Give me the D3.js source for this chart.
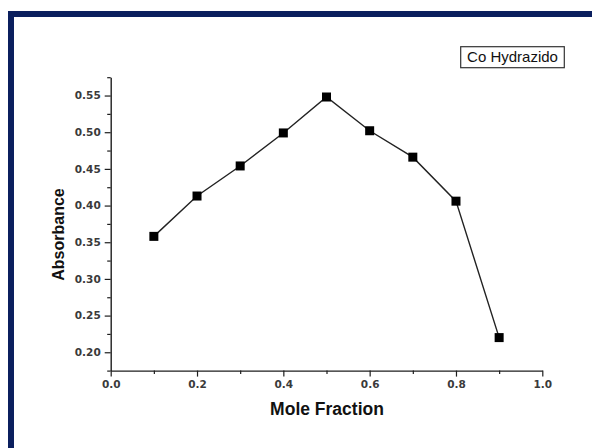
<!DOCTYPE html>
<html>
<head>
<meta charset="utf-8">
<script src="https://cdn.jsdelivr.net/npm/d3@7"></script>
<style>
  html, body { margin: 0; padding: 0; background: #fff; }
  svg { display: block; }
</style>
</head>
<body>
<svg id="chart" width="592" height="448"></svg>
<script>
// Job's method of continuous variation: absorbance vs. mole fraction
const moleFraction = [0.1, 0.2, 0.3, 0.4, 0.5, 0.6, 0.7, 0.8, 0.9];
const absorbance   = [0.358, 0.413, 0.454, 0.499, 0.548, 0.502, 0.466, 0.406, 0.220];
const xTicks = [0.0, 0.2, 0.4, 0.6, 0.8, 1.0];
const yTicks = [0.20, 0.25, 0.30, 0.35, 0.40, 0.45, 0.50, 0.55];
const seriesName = "Co Hydrazido";

const svg = d3.select("#chart");

// navy frame along top and left edges
svg.append("rect").attr("x", 8).attr("y", 11).attr("width", 600).attr("height", 6).attr("fill", "#0b1f5e");
svg.append("rect").attr("x", 8).attr("y", 11).attr("width", 6).attr("height", 450).attr("fill", "#0b1f5e");

const x = d3.scaleLinear().domain([0, 1]).range([110.7, 542.3]);
const y = d3.scaleLinear().domain([0.175, 0.575]).range([370.6, 77.2]);

const axisColor = "#1e1e1e";
const tickFont = "'DejaVu Sans', sans-serif";

// minor ticks
const xMinor = d3.range(0.1, 1.0, 0.2);
const yMinor = d3.range(0.175, 0.576, 0.05);

const gx = svg.append("g").attr("transform", `translate(0,${y.range()[0]})`);
gx.call(d3.axisBottom(x).tickValues(xTicks).tickFormat(d3.format(".1f")).tickSizeInner(6).tickSizeOuter(0).tickPadding(4));
gx.append("g").call(d3.axisBottom(x).tickValues(xMinor).tickSize(3.5).tickFormat(""))
  .select(".domain").remove();

const gy = svg.append("g").attr("transform", `translate(${x.range()[0]},0)`);
gy.call(d3.axisLeft(y).tickValues(yTicks).tickFormat(d3.format(".2f")).tickSizeInner(6).tickSizeOuter(0).tickPadding(4));
gy.append("g").call(d3.axisLeft(y).tickValues(yMinor).tickSize(3.5).tickFormat(""))
  .select(".domain").remove();

[gx, gy].forEach(g => {
  g.selectAll(".domain").attr("stroke", axisColor).attr("stroke-width", 1.4);
  g.selectAll(".tick line").attr("stroke", axisColor).attr("stroke-width", 1.2);
  g.selectAll(".tick text")
    .attr("fill", "#3a3a3a")
    .attr("font-family", tickFont)
    .attr("font-weight", "bold")
    .attr("font-size", "10.5px");
});

// axis titles
svg.append("text")
  .attr("x", (x.range()[0] + x.range()[1]) / 2 + 0.5)
  .attr("y", 415)
  .attr("text-anchor", "middle")
  .attr("font-family", "'Liberation Sans', Arial, sans-serif")
  .attr("font-weight", "bold")
  .attr("font-size", "17.5px")
  .attr("fill", "#111")
  .text("Mole Fraction");

svg.append("text")
  .attr("transform", "translate(63.5,234.5) rotate(-90)")
  .attr("text-anchor", "middle")
  .attr("font-family", "'Liberation Sans', Arial, sans-serif")
  .attr("font-weight", "bold")
  .attr("font-size", "16px")
  .attr("fill", "#111")
  .text("Absorbance");

// data line and square markers
const pts = moleFraction.map((m, i) => [m, absorbance[i]]);
svg.append("path")
  .datum(pts)
  .attr("fill", "none")
  .attr("stroke", "#222")
  .attr("stroke-width", 1.4)
  .attr("d", d3.line().x(d => x(d[0])).y(d => y(d[1])));

const ms = 9;
svg.append("g").selectAll("rect")
  .data(pts)
  .join("rect")
  .attr("x", d => x(d[0]) - ms / 2)
  .attr("y", d => y(d[1]) - ms / 2)
  .attr("width", ms)
  .attr("height", ms)
  .attr("fill", "#000");

// legend
const lg = svg.append("g");
lg.append("rect")
  .attr("x", 460.7).attr("y", 46.7)
  .attr("width", 103.6).attr("height", 21)
  .attr("fill", "#fff").attr("stroke", "#333").attr("stroke-width", 1.2);
lg.append("text")
  .attr("x", 512.5).attr("y", 62.3)
  .attr("text-anchor", "middle")
  .attr("font-family", "'Liberation Sans', Arial, sans-serif")
  .attr("font-size", "15px")
  .attr("fill", "#111")
  .text(seriesName);
</script>
</body>
</html>
